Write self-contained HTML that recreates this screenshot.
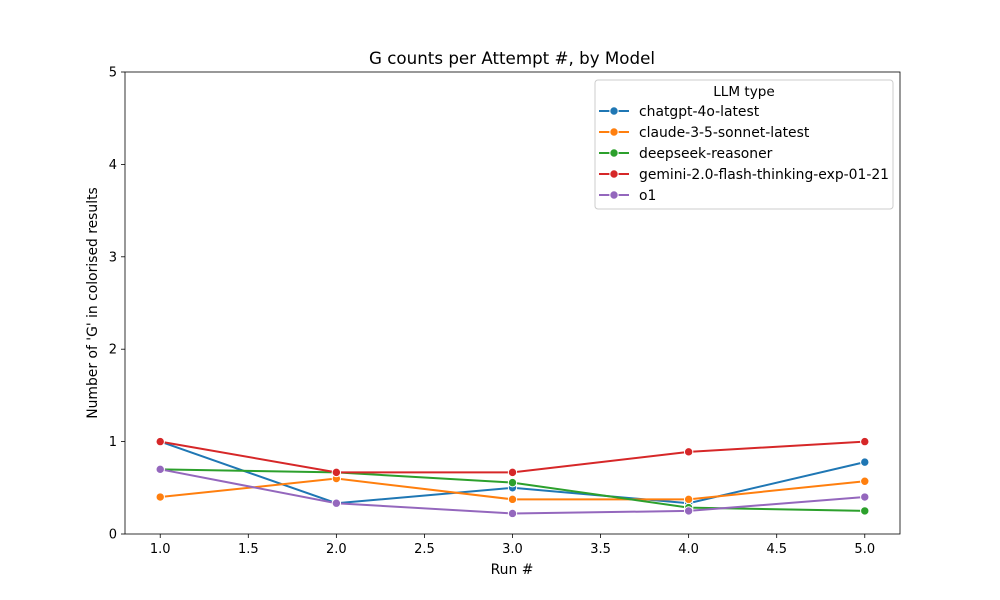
<!DOCTYPE html>
<html><head><meta charset="utf-8"><style>
body{margin:0;background:#fff}
svg{display:block;font-family:"DejaVu Sans","Liberation Sans",sans-serif}
</style></head><body>
<svg id="chart" width="1000" height="600"></svg>
<script>
const runs=[1,2,3,4,5];
const seriesNames=["chatgpt-4o-latest","claude-3-5-sonnet-latest","deepseek-reasoner","gemini-2.0-flash-thinking-exp-01-21","o1"];
const chatgpt=[1.0,0.333,0.5,0.333,0.778];
const claude=[0.4,0.6,0.375,0.375,0.571];
const deepseek=[0.7,0.667,0.556,0.286,0.25];
const gemini=[1.0,0.667,0.667,0.889,1.0];
const o1=[0.7,0.333,0.222,0.25,0.4];
const xTicks=[1.0,1.5,2.0,2.5,3.0,3.5,4.0,4.5,5.0];
const yTicks=[0,1,2,3,4,5];
const colors=["#1f77b4","#ff7f0e","#2ca02c","#d62728","#9467bd"];
const allSeries=[chatgpt,claude,deepseek,gemini,o1];

const NS="http://www.w3.org/2000/svg";
const svg=document.getElementById('chart');
const L=125,R=900,T=72,B=534;
const xMin=0.8,xMax=5.2,yMin=0,yMax=5;
const X=v=>L+(v-xMin)/(xMax-xMin)*(R-L);
const Y=v=>B-(v-yMin)/(yMax-yMin)*(B-T);
function el(tag,attrs,parent){const e=document.createElementNS(NS,tag);for(const k in attrs)e.setAttribute(k,attrs[k]);(parent||svg).appendChild(e);return e;}

const title=el('text',{x:512,y:64,'text-anchor':'middle','font-size':16.7,fill:'#000'});
title.textContent="G counts per Attempt #, by Model";



const xg=el('g',{});


xTicks.forEach(t=>{
  el('line',{x1:X(t),x2:X(t),y1:B,y2:B+4,stroke:'#000','stroke-width':0.8},xg);
  const tx=el('text',{x:X(t),y:B+19,'text-anchor':'middle','font-size':13},xg);
  tx.textContent=t.toFixed(1);
  
  
});
const xl=el('text',{x:512,y:574,'text-anchor':'middle','font-size':13.9});
xl.textContent="Run #";



const yg=el('g',{});


yTicks.forEach(t=>{
  el('line',{x1:L-4,x2:L,y1:Y(t),y2:Y(t),stroke:'#000','stroke-width':0.8},yg);
  const tx=el('text',{x:L-8,y:Y(t)+4.5,'text-anchor':'end','font-size':13},yg);
  tx.textContent=String(t);
  
  
});
const yl=el('text',{x:97,y:303,'text-anchor':'middle','font-size':13.9,transform:'rotate(-90 97 303)'});
yl.textContent="Number of 'G' in colorised results";



allSeries.forEach((s,i)=>{
  const g=el('g',{});
  
  
  const line=el('polyline',{points:s.map((v,j)=>X(runs[j])+','+Y(v)).join(' '),fill:'none',stroke:colors[i],'stroke-width':2},g);
  
  
  s.forEach((v,j)=>{
    const c=el('circle',{cx:X(runs[j]),cy:Y(v),r:4.2,fill:colors[i],stroke:'#fff','stroke-width':1},g);
    
    
  });
});

const frame=el('rect',{x:L,y:T,width:R-L,height:B-T,fill:'none',stroke:'#000','stroke-width':0.8});



const lg=el('g',{});


el('rect',{x:595,y:80,width:298,height:129,rx:3,fill:'#fff',stroke:'#ccc','stroke-width':1},lg);
const lt=el('text',{x:744,y:96,'text-anchor':'middle','font-size':13.6},lg);
lt.textContent="LLM type";


seriesNames.forEach((n,i)=>{
  const y=111+i*21;
  const e=el('g',{},lg);
  
  
  el('line',{x1:599,x2:629,y1:y,y2:y,stroke:colors[i],'stroke-width':2},e);
  el('circle',{cx:614,cy:y,r:4.2,fill:colors[i],stroke:'#fff','stroke-width':1},e);
  const t=el('text',{x:639,y:y+5,'font-size':13.9},e);
  t.textContent=n;
});
</script>
</body></html>
